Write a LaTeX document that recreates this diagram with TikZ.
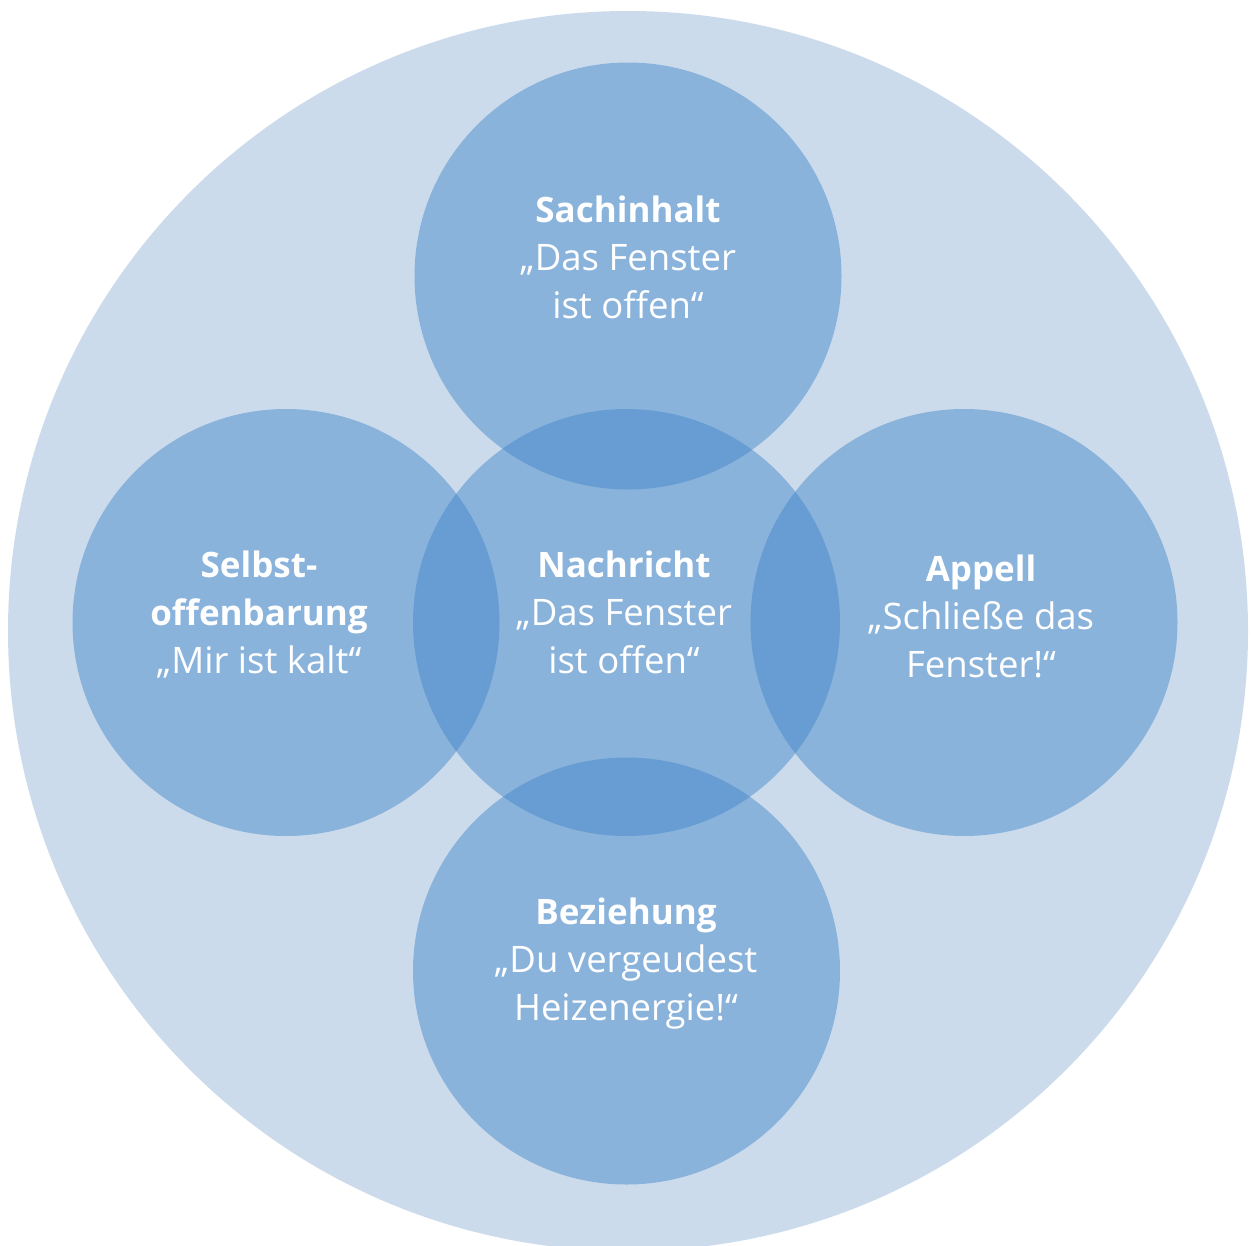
\documentclass[tikz,border=0pt]{standalone}
\usepackage{fontspec}
\setmainfont{Open Sans}
\newcommand{\headline}[1]{{\fontsize{35}{48}\selectfont\bfseries #1}}
\begin{document}
\begin{tikzpicture}[x=1pt,y=-1pt,
  outer/.style={fill=bgblue},
  facet/.style={circle,fill=facetblue,fill opacity=0.47,draw=none,minimum size=427pt,inner sep=0pt},
  facettext/.style={text=white,align=center,font=\fontsize{36.5}{48}\selectfont},
]
\definecolor{bgblue}{RGB}{204,219,236}
\definecolor{facetblue}{RGB}{64,134,202}
\useasboundingbox (0,0) rectangle (1252,1245);

% surrounding disc
\fill[outer] (628,631) circle[radius=620];

% the five overlapping sides of the message
\node[facet] (sach) at (628,276) {};
\node[facet] (selbst) at (286,622.5) {};
\node[facet] (nach) at (626.5,622.5) {};
\node[facet] (appell) at (964,622.5) {};
\node[facet] (bez) at (626.5,971) {};

% labels
\node[facettext] (tsach) at (628,257) {\headline{Sachinhalt}\\„Das Fenster\\ist offen“};
\node[facettext] (tselbst) at (259,615) {\headline{Selbst-}\\\headline{offenbarung}\\„Mir ist kalt“};
\node[facettext] (tnach) at (624,612) {\headline{Nachricht}\\„Das Fenster\\ist offen“};
\node[facettext] (tappell) at (981,616) {\headline{Appell}\\„Schließe das\\Fenster!“};
\node[facettext] (tbez) at (626,964) {\headline{Beziehung}\\„Du vergeudest\\Heizenergie!“};
\end{tikzpicture}
\end{document}
